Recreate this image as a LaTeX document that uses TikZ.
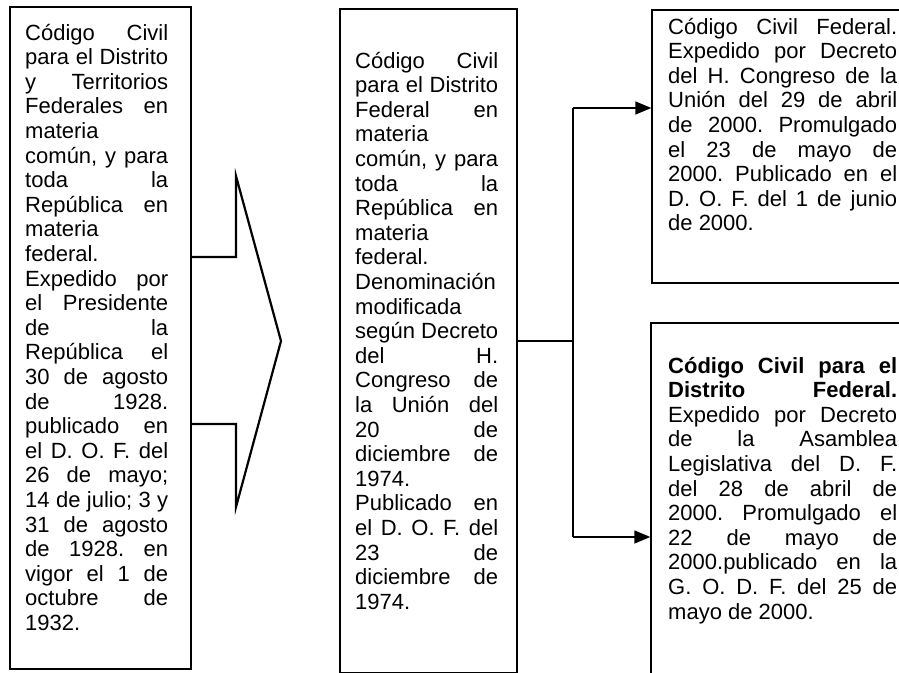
\documentclass[tikz,border=0pt]{standalone}
\usepackage{fontspec}
\setmainfont{Liberation Sans}
\usepackage{tikz}
\usetikzlibrary{arrows.meta,calc,positioning}
\hbadness=10000
\newcommand{\jlin}[1]{\makebox[\linewidth][s]{#1}\newline}
\newcommand{\llin}[1]{#1\newline}
\tikzset{
	codebox/.style={draw, line width=1.4pt, inner sep=0pt},
	codetext/.style={inner sep=0pt, anchor=base west, text width=#1, align=justify,
		font=\fontsize{22}{24.6}\selectfont\frenchspacing},
	conn/.style={line width=1.4pt},
	flecha/.style={-{Triangle[length=16pt,width=13pt]}, line width=1.4pt},
	bigarrow/.style={line width=2.2pt}
}

\begin{document}
\begin{tikzpicture}[x=1pt,y=-1pt]
		\useasboundingbox (0,0) rectangle (899,672);
		\clip (0,0) rectangle (899,672);
		\node[codebox, minimum width=181pt, minimum height=662pt] (cc1928) at (100.5,338) {};
		\node[codebox, minimum width=177pt, minimum height=664pt] (cc1974) at (428.5,341) {};
		\node[codebox, minimum width=260pt, minimum height=273pt] (ccf) at (782,146.5) {};
		\node[codebox, minimum width=261pt, minimum height=377pt] (ccdf) at (781.5,511.5) {};
		\node[codetext=143pt] (t1928) at (25,40) {\jlin{Código Civil}\jlin{para el Distrito}\jlin{y Territorios}\jlin{Federales en}\llin{materia}\jlin{común, y para}\jlin{toda la}\jlin{República en}\llin{materia}\llin{federal.}\jlin{Expedido por}\jlin{el Presidente}\jlin{de la}\jlin{República el}\jlin{30 de agosto}\jlin{de 1928.}\jlin{publicado en}\jlin{el D. O. F. del}\jlin{26 de mayo;}\jlin{14 de julio; 3 y}\jlin{31 de agosto}\jlin{de 1928. en}\jlin{vigor el 1 de}\jlin{octubre de}1932.};
		\node[codetext=143pt] (t1974) at (355,68) {\jlin{Código Civil}\jlin{para el Distrito}\jlin{Federal en}\llin{materia}\jlin{común, y para}\jlin{toda la}\jlin{República en}\llin{materia}\llin{federal.}\llin{Denominación}\llin{modificada}\jlin{según Decreto}\jlin{del H.}\jlin{Congreso de}\jlin{la Unión del}\jlin{20 de}\jlin{diciembre de}\llin{1974.}\jlin{Publicado en}\jlin{el D. O. F. del}\jlin{23 de}\jlin{diciembre de}1974.};
		\node[codetext=229pt] (tccf) at (668,34) {\jlin{Código Civil Federal.}\jlin{Expedido por Decreto}\jlin{del H. Congreso de la}\jlin{Unión del 29 de abril}\jlin{de 2000. Promulgado}\jlin{el 23 de mayo de}\jlin{2000. Publicado en el}\jlin{D. O. F. del 1 de junio}de 2000.};
		\node[codetext=229pt] (tccdf) at (668,373) {\jlin{\textbf{Código Civil para el}}\jlin{\textbf{Distrito Federal.}}\jlin{Expedido por Decreto}\jlin{de la Asamblea}\jlin{Legislativa del D. F.}\jlin{del 28 de abril de}\jlin{2000. Promulgado el}\jlin{22 de mayo de}\jlin{2000.publicado en la}\jlin{G. O. D. F. del 25 de}mayo de 2000.};
		\draw[bigarrow] (191,257) to (236,257) to (236,176) to (281,341) to (236,507) to (236,424) to (191,424);
		\coordinate (up) at (573,108);
		\coordinate (dn) at (573,537);
		\draw[conn] (cc1974.east) to (cc1974.east -| up);
		\draw[conn] (up) to (dn);
		\draw[flecha] (up) to (up -| ccf.west);
		\draw[flecha] (dn) to (dn -| ccdf.west);
	\end{tikzpicture}
\end{document}
